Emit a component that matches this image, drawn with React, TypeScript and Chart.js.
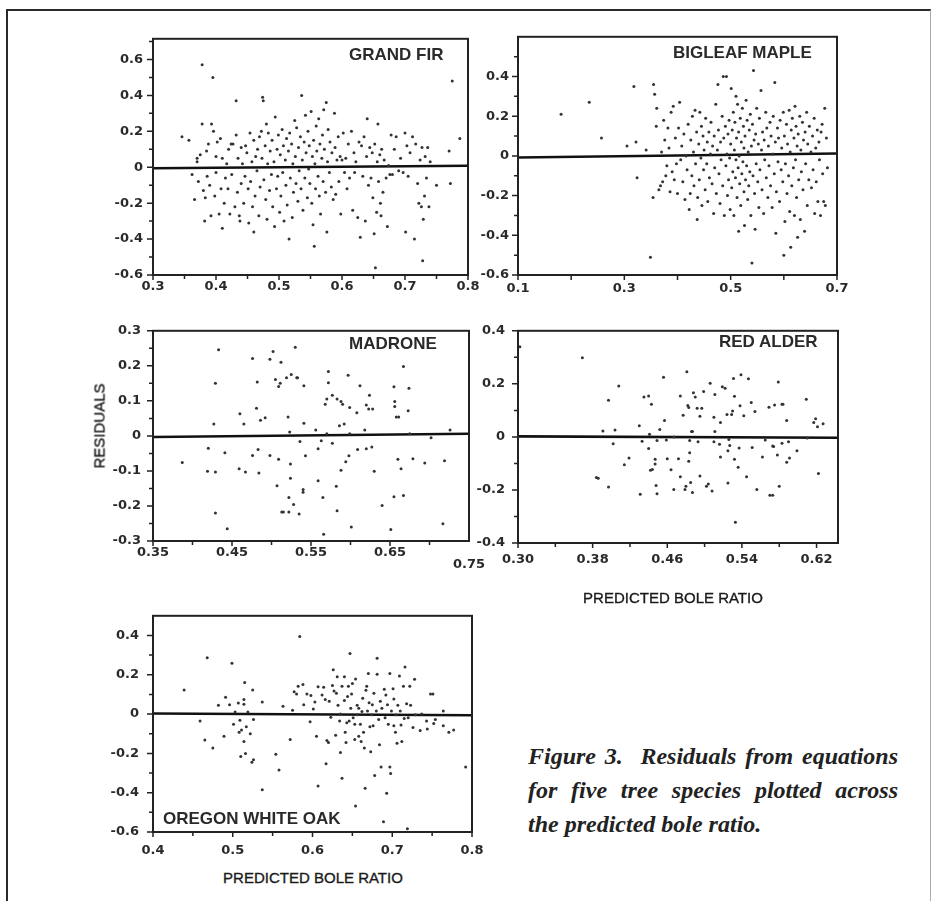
import React, { useEffect, useRef } from "react";
import { Chart, registerables } from "chart.js";
Chart.register(...registerables);

type Pt = [number, number];

// ---------- DATA ----------
const grandFirPoints: Pt[] = [
  [0.346,0.17],[0.357,0.15],[0.362,-0.04],[0.366,-0.18],[0.37,0.03],[0.37,0.05],[0.372,-0.08],[0.375,0.07],[0.378,0.57],[0.378,0.24],[0.38,-0.13],[0.382,-0.3],[0.383,-0.17],[0.385,0.09],[0.386,-0.05],[0.388,0.13],[0.39,-0.1],[0.392,-0.27],[0.393,0.24],[0.395,0.5],[0.396,0.2],[0.398,-0.16],[0.4,0.06],[0.4,-0.03],[0.402,0.14],
  [0.405,-0.26],[0.407,0.16],[0.408,-0.12],[0.41,0.05],[0.41,-0.34],[0.413,-0.2],[0.415,-0.06],[0.417,0.02],[0.419,-0.12],[0.42,0.1],[0.422,-0.26],[0.424,0.13],[0.425,-0.04],[0.427,0.13],[0.43,-0.22],[0.432,0.37],[0.432,0.18],[0.434,-0.14],[0.435,0.05],[0.437,-0.27],[0.438,-0.3],[0.44,0.11],[0.44,-0.09],[0.442,0.02],[0.444,-0.2],[0.446,-0.05],[0.447,0.12],[0.449,0.08],
  [0.451,-0.12],[0.452,-0.31],[0.454,0.19],[0.455,-0.08],[0.457,0.03],[0.458,-0.22],[0.46,0.15],[0.46,-0.36],[0.462,-0.16],[0.463,0.06],[0.465,-0.02],[0.466,0.1],[0.468,-0.27],[0.469,0.17],[0.47,-0.11],[0.472,0.2],[0.473,0.05],[0.474,0.39],[0.475,0.37],[0.476,-0.07],[0.478,0.12],[0.479,-0.18],[0.48,0.24],[0.481,-0.29],[0.482,0.02],[0.483,0.19],[0.485,-0.13],[0.486,0.09],[0.488,-0.04],[0.489,0.15],[0.49,-0.22],[0.492,0.03],[0.493,-0.33],[0.494,0.28],[0.496,-0.12],[0.497,0.1],[0.498,-0.05],[0.499,0.18],
  [0.501,-0.25],[0.502,0.07],[0.503,-0.16],[0.505,0.21],[0.506,-0.03],[0.507,0.12],[0.508,-0.3],[0.51,0.04],[0.511,-0.1],[0.512,0.16],[0.513,-0.21],[0.515,0.09],[0.516,-0.4],[0.517,0.19],[0.518,-0.06],[0.52,0.13],[0.521,-0.28],[0.522,0.02],[0.523,-0.14],[0.525,0.26],[0.526,0.06],[0.527,-0.09],[0.528,0.22],[0.53,-0.19],[0.531,0.11],[0.532,-0.02],[0.534,0.17],[0.535,-0.12],[0.536,0.4],[0.537,0.04],[0.538,-0.24],[0.54,0.14],[0.541,-0.06],[0.542,0.29],[0.543,0.08],[0.545,-0.17],[0.546,0.2],[0.547,-0.01],[0.548,0.12],[0.549,-0.09],
  [0.551,0.31],[0.552,-0.2],[0.553,0.06],[0.554,-0.32],[0.555,0.15],[0.556,-0.44],[0.557,0.02],[0.558,-0.12],[0.559,0.23],[0.56,0.09],[0.562,-0.05],[0.563,0.27],[0.564,-0.16],[0.565,0.13],[0.566,-0.26],[0.568,0.05],[0.569,0.18],[0.57,-0.08],[0.571,0.32],[0.572,0.1],[0.574,-0.14],[0.575,0.36],[0.576,-0.36],[0.577,0.03],[0.578,0.21],[0.58,-0.03],[0.581,0.14],[0.583,-0.11],[0.584,0.08],[0.586,-0.18],[0.588,0.3],[0.589,0.11],[0.59,-0.15],[0.592,0.04],[0.594,0.17],[0.595,-0.08],[0.597,0.06],[0.598,-0.26],[0.6,0.04],
  [0.602,0.19],[0.604,-0.03],[0.606,0.05],[0.608,-0.12],[0.61,0.13],[0.612,-0.06],[0.615,0.2],[0.617,-0.24],[0.619,0.08],[0.62,-0.03],[0.622,0.03],[0.625,-0.28],[0.627,0.14],[0.629,-0.39],[0.631,0.12],[0.633,-0.05],[0.635,0.17],[0.637,-0.3],[0.639,0.06],[0.64,0.27],[0.642,-0.1],[0.644,0.11],[0.646,-0.06],[0.648,0.08],[0.649,-0.17],
  [0.651,-0.37],[0.652,0.13],[0.653,-0.56],[0.655,-0.25],[0.656,0.03],[0.657,0.24],[0.658,-0.08],[0.66,0.07],[0.661,-0.2],[0.662,-0.27],[0.663,0.1],[0.665,-0.14],[0.667,0.04],[0.67,-0.06],[0.672,-0.33],[0.674,0.01],[0.676,-0.04],[0.678,0.18],[0.68,-0.04],[0.683,0.1],[0.686,0.17],[0.69,-0.02],[0.693,0.05],[0.697,-0.03],[0.7,0.19],
  [0.701,-0.36],[0.703,0.12],[0.705,-0.05],[0.708,0.08],[0.712,0.17],[0.715,-0.4],[0.717,0.13],[0.72,-0.09],[0.722,-0.2],[0.724,0.04],[0.726,-0.22],[0.727,0.11],[0.728,-0.52],[0.729,-0.29],[0.731,-0.16],[0.732,0.06],[0.734,-0.06],[0.736,0.11],[0.738,-0.22],[0.74,0.03],[0.75,-0.1],[0.77,0.09],[0.772,-0.09],[0.775,0.48],[0.787,0.16],
];
const grandFirFit: Pt[] = [[0.3,-0.006],[0.8,0.008]];

const bigleafMaplePoints: Pt[] = [
  [0.181,0.21],[0.234,0.27],[0.257,0.09],[0.305,0.05],[0.318,0.35],[0.322,0.07],[0.324,-0.11],[0.341,0.03],[0.349,-0.51],[0.354,-0.21],[0.355,0.36],[0.357,0.31],[0.36,0.15],[0.361,0.24],[0.365,-0.17],[0.368,-0.15],[0.37,0.02],[0.372,-0.13],[0.374,0.18],[0.376,0.08],[0.378,-0.1],[0.38,-0.05],[0.382,0.14],[0.384,0.04],[0.386,-0.18],[0.388,0.22],[0.39,-0.08],[0.392,0.25],[0.394,-0.12],[0.396,0.09],[0.398,-0.04],
  [0.4,-0.19],[0.402,0.14],[0.404,0.27],[0.406,-0.02],[0.408,0.05],[0.41,-0.13],[0.412,0.11],[0.414,-0.22],[0.416,0.0],[0.418,-0.07],[0.42,0.16],[0.422,-0.27],[0.424,-0.19],[0.425,0.08],[0.427,-0.1],[0.428,0.2],[0.43,0.02],[0.431,-0.15],[0.433,0.23],[0.434,-0.04],[0.436,0.12],[0.437,-0.32],[0.438,-0.21],[0.44,0.06],[0.441,-0.12],[0.442,0.22],[0.444,-0.01],[0.445,0.15],[0.446,-0.25],[0.448,0.1],[0.449,-0.07],
  [0.45,0.03],[0.452,-0.17],[0.453,0.19],[0.455,-0.04],[0.456,0.07],[0.457,-0.23],[0.459,0.12],[0.46,-0.11],[0.462,0.01],[0.463,0.17],[0.465,-0.14],[0.466,0.05],[0.468,-0.29],[0.469,0.1],[0.47,-0.06],[0.472,0.26],[0.473,-0.19],[0.475,0.03],[0.476,0.36],[0.477,0.13],[0.478,-0.09],[0.48,-0.24],[0.481,0.07],[0.482,-0.02],[0.484,0.2],[0.485,-0.15],[0.486,0.4],[0.487,0.09],[0.488,-0.3],[0.49,0.15],[0.491,-0.05],[0.492,0.4],[0.493,0.01],[0.494,-0.2],[0.495,0.11],[0.496,-0.12],[0.497,0.18],[0.498,-0.01],[0.499,-0.27],
  [0.5,0.06],[0.501,0.34],[0.502,-0.16],[0.503,0.13],[0.504,-0.08],[0.505,0.22],[0.506,-0.3],[0.507,0.03],[0.508,0.17],[0.509,-0.11],[0.51,0.3],[0.51,-0.02],[0.511,0.09],[0.512,-0.21],[0.513,0.26],[0.514,-0.06],[0.515,0.12],[0.515,-0.38],[0.516,0.0],[0.517,-0.14],[0.518,0.19],[0.519,-0.25],[0.52,0.07],[0.521,-0.09],[0.522,0.24],[0.523,-0.03],[0.524,0.15],[0.525,-0.18],[0.525,0.04],[0.526,-0.35],[0.527,0.1],[0.528,-0.12],[0.529,0.28],[0.53,-0.05],[0.531,0.18],[0.532,-0.22],[0.533,0.02],[0.534,-0.15],[0.535,0.13],[0.536,-0.08],[0.537,0.21],[0.538,-0.3],[0.539,0.05],[0.54,-0.54],[0.541,0.16],[0.542,-0.1],[0.543,0.43],[0.544,0.08],[0.545,-0.19],[0.546,-0.37],[0.547,0.11],[0.548,-0.04],[0.549,0.24],
  [0.551,-0.13],[0.552,0.06],[0.553,-0.26],[0.554,0.19],[0.555,-0.07],[0.557,0.33],[0.558,0.03],[0.559,-0.17],[0.56,0.12],[0.562,-0.29],[0.563,0.08],[0.564,-0.02],[0.566,0.22],[0.567,-0.11],[0.568,0.14],[0.57,-0.21],[0.571,0.05],[0.572,-0.05],[0.574,0.17],[0.575,-0.15],[0.576,0.1],[0.578,-0.26],[0.579,0.01],[0.58,0.2],[0.582,-0.09],[0.583,0.37],[0.584,0.07],[0.585,-0.39],[0.586,-0.18],[0.588,0.14],[0.589,-0.03],[0.59,0.09],[0.592,-0.23],[0.593,0.18],[0.595,-0.07],[0.596,0.04],[0.598,-0.13],[0.599,0.22],
  [0.6,-0.5],[0.601,0.1],[0.602,-0.33],[0.603,-0.04],[0.605,0.16],[0.606,-0.19],[0.607,0.06],[0.609,-0.1],[0.61,0.23],[0.611,-0.28],[0.612,0.02],[0.613,-0.46],[0.614,0.13],[0.615,-0.15],[0.616,0.19],[0.618,-0.06],[0.619,0.09],[0.62,-0.3],[0.621,0.25],[0.622,-0.02],[0.623,0.15],[0.624,-0.21],[0.625,0.05],[0.626,-0.41],[0.627,0.11],[0.628,-0.12],[0.63,0.2],[0.631,-0.32],[0.632,0.03],[0.633,-0.08],[0.635,0.17],[0.636,-0.17],[0.637,0.08],[0.639,-0.38],[0.64,0.12],[0.641,-0.04],[0.643,0.22],[0.644,-0.25],[0.645,0.06],[0.647,-0.12],[0.648,0.15],
  [0.651,0.02],[0.652,-0.16],[0.654,0.1],[0.655,-0.07],[0.657,0.19],[0.658,-0.29],[0.66,0.04],[0.661,-0.13],[0.663,0.13],[0.664,-0.23],[0.666,0.07],[0.667,-0.02],[0.669,-0.3],[0.67,0.12],[0.672,0.16],[0.673,-0.09],[0.675,-0.23],[0.677,0.24],[0.678,-0.25],[0.68,0.09],[0.682,-0.06],
];
const bigleafMapleFit: Pt[] = [[0.1,-0.008],[0.7,0.012]];

const madronePoints: Pt[] = [
  [0.387,-0.076],[0.419,-0.101],[0.42,-0.035],[0.427,0.034],[0.429,0.15],[0.429,-0.103],[0.429,-0.22],[0.433,0.246],[0.441,-0.048],[0.444,-0.265],
  [0.46,0.063],[0.459,-0.094],[0.465,0.034],[0.467,-0.103],[0.476,0.221],[0.476,-0.056],[0.481,0.079],[0.482,0.154],[0.483,-0.039],[0.484,-0.106],
  [0.486,0.045],[0.492,0.052],[0.498,0.219],[0.498,-0.056],[0.502,0.241],[0.505,0.161],[0.507,-0.142],[0.509,-0.067],[0.509,0.141],[0.511,0.15],
  [0.512,0.21],[0.513,-0.217],[0.515,-0.217],[0.519,0.166],[0.521,0.054],[0.522,-0.176],[0.523,0.011],[0.522,-0.217],[0.524,-0.08],[0.524,-0.121],
  [0.525,0.175],[0.528,-0.196],[0.53,0.253],[0.532,0.166],[0.533,0.166],[0.535,-0.223],[0.536,-0.016],[0.54,-0.153],[0.54,-0.161],[0.541,0.143],
  [0.541,0.036],[0.543,-0.057],[0.556,0.017],[0.559,-0.037],[0.559,-0.128],[0.563,-0.014],[0.565,-0.176],[0.566,-0.281],[0.568,0.09],[0.57,0.105],
  [0.57,0.006],[0.572,0.184],[0.572,0.152],[0.577,-0.021],[0.577,0.116],[0.582,-0.144],[0.583,0.105],[0.583,-0.214],[0.586,0.029],[0.588,0.098],
  [0.588,-0.098],[0.59,0.09],[0.592,0.034],[0.594,-0.074],[0.597,0.173],[0.598,-0.057],[0.599,0.006],[0.599,0.081],[0.601,-0.26],[0.608,0.066],
  [0.609,-0.039],[0.612,0.143],[0.618,0.017],[0.62,-0.037],[0.62,0.088],[0.623,0.077],[0.624,0.116],[0.627,-0.032],[0.628,0.077],[0.63,-0.101],
  [0.64,-0.199],[0.651,-0.267],[0.655,0.14],[0.655,-0.174],[0.656,0.098],[0.656,0.084],[0.658,0.054],[0.66,-0.067],[0.661,0.054],[0.664,-0.094],
  [0.667,0.198],[0.667,-0.17],[0.673,0.072],[0.674,0.136],[0.675,0.006],[0.679,-0.065],[0.694,-0.077],[0.702,-0.005],[0.717,-0.251],[0.719,-0.071],
  [0.726,0.017],
];
const madroneFit: Pt[] = [[0.35,-0.003],[0.75,0.006]];

const redAlderPoints: Pt[] = [
  [0.302,0.34],[0.369,0.298],[0.384,-0.153],[0.386,-0.156],[0.391,0.022],[0.397,0.138],[0.397,-0.189],[0.402,-0.026],[0.404,0.026],[0.408,0.192],
  [0.414,-0.105],[0.419,-0.08],[0.43,0.042],[0.431,-0.216],[0.433,-0.016],[0.435,0.15],[0.44,0.154],[0.44,-0.044],[0.441,0.01],[0.442,-0.126],
  [0.443,0.123],[0.444,-0.123],[0.447,-0.084],[0.447,-0.102],[0.448,-0.183],[0.449,-0.014],[0.449,-0.214],[0.452,0.028],[0.456,0.225],[0.457,0.062],
  [0.459,-0.012],[0.46,-0.082],[0.464,-0.124],[0.467,0.0],[0.467,-0.198],[0.472,-0.082],[0.474,0.154],[0.474,-0.15],[0.477,0.082],[0.479,-0.198],
  [0.48,-0.186],[0.481,0.246],[0.482,0.118],[0.483,0.111],[0.483,-0.092],[0.484,-0.014],[0.484,-0.06],[0.485,-0.172],[0.486,0.02],[0.487,0.02],
  [0.487,-0.21],[0.488,0.166],[0.49,0.15],[0.492,0.108],[0.493,-0.018],[0.495,-0.147],[0.495,0.078],[0.497,0.108],[0.499,0.171],[0.502,-0.186],
  [0.504,-0.178],[0.506,0.202],[0.508,-0.204],[0.51,0.074],[0.511,0.16],[0.511,0.02],[0.51,-0.018],[0.516,-0.028],[0.517,-0.076],[0.517,0.054],
  [0.519,0.189],[0.522,0.183],[0.524,0.084],[0.525,-0.174],[0.525,-0.052],[0.526,-0.01],[0.527,-0.032],[0.529,0.084],[0.53,0.098],[0.531,0.22],
  [0.532,0.153],[0.532,-0.084],[0.533,-0.322],[0.536,-0.114],[0.537,-0.042],[0.538,0.117],[0.539,0.234],[0.542,0.08],[0.545,-0.15],[0.547,0.219],
  [0.55,0.13],[0.551,-0.04],[0.554,0.096],[0.556,-0.198],[0.562,-0.076],[0.565,-0.012],[0.569,0.112],[0.57,-0.22],[0.573,-0.22],[0.573,-0.034],
  [0.574,-0.036],[0.575,0.12],[0.578,-0.068],[0.579,0.207],[0.58,-0.186],[0.583,0.123],[0.583,-0.024],[0.584,0.123],[0.588,0.062],[0.588,-0.096],
  [0.59,-0.018],[0.591,-0.08],[0.599,-0.052],[0.609,0.142],[0.61,-0.004],[0.617,0.054],[0.619,0.068],[0.621,0.038],[0.622,-0.138],[0.627,0.05],
];
const redAlderFit: Pt[] = [[0.3,0.002],[0.643,-0.003]];

const oregonWhiteOakPoints: Pt[] = [
  [0.439,0.123],[0.459,-0.035],[0.465,-0.132],[0.468,0.287],[0.475,-0.173],[0.482,0.045],[0.489,-0.113],[0.491,0.085],[0.496,0.048],[0.499,0.258],
  [0.501,-0.052],[0.503,0.01],[0.507,0.056],[0.508,-0.092],[0.509,-0.032],[0.51,-0.216],[0.511,-0.081],[0.514,0.074],[0.514,0.05],[0.514,-0.14],
  [0.515,0.161],[0.516,-0.2],[0.517,-0.065],[0.519,0.01],[0.522,-0.1],[0.524,-0.245],[0.525,0.123],[0.526,-0.232],[0.526,-0.027],[0.537,0.061],
  [0.537,-0.385],[0.554,-0.205],[0.558,-0.285],[0.563,0.04],[0.572,-0.129],[0.575,0.019],[0.577,0.113],[0.58,0.102],[0.582,0.142],[0.584,0.395],
  [0.588,0.15],[0.589,0.048],[0.593,0.102],[0.597,-0.039],[0.598,0.094],[0.601,0.026],[0.603,0.061],[0.605,-0.113],[0.607,0.139],[0.607,-0.366],
  [0.612,0.097],[0.614,0.137],[0.616,0.074],[0.617,-0.253],[0.618,-0.135],[0.62,-0.145],[0.621,0.065],[0.623,-0.016],[0.625,0.145],[0.626,0.226],
  [0.627,0.118],[0.629,-0.108],[0.63,0.106],[0.631,0.19],[0.632,0.045],[0.634,-0.035],[0.635,-0.196],[0.635,0.0],[0.637,-0.326],[0.637,0.142],
  [0.64,0.069],[0.64,0.19],[0.641,-0.092],[0.642,-0.145],[0.643,-0.044],[0.644,0.09],[0.645,0.142],[0.646,-0.035],[0.647,0.308],[0.648,0.029],
  [0.649,0.102],[0.65,0.155],[0.651,-0.019],[0.653,-0.052],[0.653,-0.129],[0.654,0.179],[0.654,-0.468],[0.656,-0.003],[0.656,0.045],[0.658,-0.113],
  [0.658,0.029],[0.66,-0.052],[0.661,-0.14],[0.662,0.013],[0.663,0.081],[0.664,-0.092],[0.665,-0.173],[0.666,-0.377],[0.667,0.121],[0.668,0.142],
  [0.669,0.016],[0.67,0.206],[0.671,0.058],[0.672,-0.065],[0.673,-0.192],[0.674,-0.003],[0.675,0.048],[0.676,-0.06],[0.677,0.106],[0.678,-0.313],
  [0.68,0.016],[0.681,0.284],[0.681,0.203],[0.683,-0.027],[0.684,-0.156],[0.685,0.065],[0.686,-0.269],[0.687,0.029],[0.689,-0.548],[0.69,0.126],
  [0.691,-0.019],[0.692,0.097],[0.693,-0.403],[0.694,0.048],[0.695,-0.052],[0.697,0.206],[0.697,-0.269],[0.698,-0.302],[0.699,0.016],[0.701,0.129],
  [0.702,-0.06],[0.702,0.077],[0.704,-0.092],[0.705,-0.003],[0.706,-0.148],[0.707,0.045],[0.709,0.194],[0.71,0.016],[0.711,-0.055],[0.712,-0.14],
  [0.714,0.142],[0.715,-0.023],[0.716,0.239],[0.718,0.053],[0.719,-0.584],[0.72,-0.019],[0.722,0.142],[0.723,0.045],[0.726,-0.068],[0.728,0.177],
  [0.729,-0.003],[0.735,-0.084],[0.737,0.0],[0.743,-0.035],[0.744,-0.076],[0.748,0.102],[0.751,0.102],[0.752,-0.048],[0.754,-0.027],[0.764,0.016],
  [0.764,-0.06],[0.771,-0.092],[0.777,-0.081],[0.792,-0.269],
];
const oregonWhiteOakFit: Pt[] = [[0.4,0.003],[0.8,-0.006]];

// tick values and labels
const grandFirXTicks = [0.3, 0.4, 0.5, 0.6, 0.7, 0.8];
const grandFirXLabels = ["0.3", "0.4", "0.5", "0.6", "0.7", "0.8"];
const grandFirXMinor = [0.35, 0.45, 0.55, 0.65, 0.75];
const grandFirYTicks = [-0.6, -0.4, -0.2, 0, 0.2, 0.4, 0.6];
const grandFirYLabels = ["-0.6", "-0.4", "-0.2", "0", "0.2", "0.4", "0.6"];
const grandFirYMinor = [-0.5, -0.3, -0.1, 0.1, 0.3, 0.5, 0.7];

const bigleafXTicks = [0.1, 0.3, 0.5, 0.7];
const bigleafXLabels = ["0.1", "0.3", "0.5", "0.7"];
const bigleafXMinor = [0.2, 0.4, 0.6];
const bigleafYTicks = [-0.6, -0.4, -0.2, 0, 0.2, 0.4];
const bigleafYLabels = ["-0.6", "-0.4", "-0.2", "0", "0.2", "0.4"];
const bigleafYMinor = [-0.5, -0.3, -0.1, 0.1, 0.3, 0.5];

const madroneXTicks = [0.35, 0.45, 0.55, 0.65];
const madroneXLabels = ["0.35", "0.45", "0.55", "0.65"];
const madroneXMinor = [0.4, 0.5, 0.6, 0.7];
const madroneYTicks = [-0.3, -0.2, -0.1, 0, 0.1, 0.2, 0.3];
const madroneYLabels = ["-0.3", "-0.2", "-0.1", "0", "0.1", "0.2", "0.3"];
const madroneYMinor = [-0.25, -0.15, -0.05, 0.05, 0.15, 0.25];

const redAlderXTicks = [0.3, 0.38, 0.46, 0.54, 0.62];
const redAlderXLabels = ["0.30", "0.38", "0.46", "0.54", "0.62"];
const redAlderXMinor = [0.34, 0.42, 0.5, 0.58];
const redAlderYTicks = [-0.4, -0.2, 0, 0.2, 0.4];
const redAlderYLabels = ["-0.4", "-0.2", "0", "0.2", "0.4"];
const redAlderYMinor = [-0.3, -0.1, 0.1, 0.3];

const oakXTicks = [0.4, 0.5, 0.6, 0.7, 0.8];
const oakXLabels = ["0.4", "0.5", "0.6", "0.7", "0.8"];
const oakXMinor = [0.45, 0.55, 0.65, 0.75];
const oakYTicks = [-0.6, -0.4, -0.2, 0, 0.2, 0.4];
const oakYLabels = ["-0.6", "-0.4", "-0.2", "0", "0.2", "0.4"];
const oakYMinor = [-0.5, -0.3, -0.1, 0.1, 0.3];

// ---------- PANEL SETUP ----------
interface PanelCfg {
  box: { l: number; t: number; r: number; b: number };
  xRange: [number, number];
  yRange: [number, number];
  points: Pt[];
  fit: Pt[];
  xTicks: number[]; xLabels: string[]; xMinor: number[]; xMinorLen: number;
  yTicks: number[]; yLabels: string[]; yMinor: number[];
  xGap: number; yGap: number;
}

const panels: PanelCfg[] = [
  { box: { l: 153, t: 33, r: 468, b: 275 }, xRange: [0.3, 0.8], yRange: [-0.6, 0.715], points: grandFirPoints, fit: grandFirFit,
    xTicks: grandFirXTicks, xLabels: grandFirXLabels, xMinor: grandFirXMinor, xMinorLen: 4,
    yTicks: grandFirYTicks, yLabels: grandFirYLabels, yMinor: grandFirYMinor, xGap: 4, yGap: 10 },
  { box: { l: 518, t: 32, r: 837, b: 275 }, xRange: [0.1, 0.7], yRange: [-0.6, 0.6], points: bigleafMaplePoints, fit: bigleafMapleFit,
    xTicks: bigleafXTicks, xLabels: bigleafXLabels, xMinor: bigleafXMinor, xMinorLen: 5,
    yTicks: bigleafYTicks, yLabels: bigleafYLabels, yMinor: bigleafYMinor, xGap: 6, yGap: 9 },
  { box: { l: 153, t: 323, r: 469, b: 541 }, xRange: [0.35, 0.75], yRange: [-0.3, 0.3], points: madronePoints, fit: madroneFit,
    xTicks: madroneXTicks, xLabels: madroneXLabels, xMinor: madroneXMinor, xMinorLen: 4,
    yTicks: madroneYTicks, yLabels: madroneYLabels, yMinor: madroneYMinor, xGap: 4, yGap: 12 },
  { box: { l: 518, t: 322, r: 838, b: 543 }, xRange: [0.3, 0.643], yRange: [-0.4, 0.4], points: redAlderPoints, fit: redAlderFit,
    xTicks: redAlderXTicks, xLabels: redAlderXLabels, xMinor: redAlderXMinor, xMinorLen: 4,
    yTicks: redAlderYTicks, yLabels: redAlderYLabels, yMinor: redAlderYMinor, xGap: 9, yGap: 13 },
  { box: { l: 153, t: 606, r: 472, b: 832 }, xRange: [0.4, 0.8], yRange: [-0.6, 0.5], points: oregonWhiteOakPoints, fit: oregonWhiteOakFit,
    xTicks: oakXTicks, xLabels: oakXLabels, xMinor: oakXMinor, xMinorLen: 4,
    yTicks: oakYTicks, yLabels: oakYLabels, yMinor: oakYMinor, xGap: 11, yGap: 14 },
];

const TICK_FONT = { family: "'DejaVu Sans', sans-serif", size: 13, weight: "bold" as const };
const PAD_L = 60, PAD_T = 12, PAD_R = 24, PAD_B = 36;

function Panel({ cfg }: { cfg: PanelCfg }) {
  const ref = useRef<HTMLCanvasElement>(null);
  const w = cfg.box.r - cfg.box.l + PAD_L + PAD_R;
  const h = cfg.box.b - cfg.box.t + PAD_T + PAD_B;

  useEffect(() => {
    const framePlugin = {
      id: "frameTicks",
      afterDraw(chart: any) {
        const { ctx, chartArea: a, scales } = chart;
        const xs = scales.x, ys = scales.y;
        ctx.save();
        ctx.strokeStyle = "#222";
        ctx.lineWidth = 1.5;
        ctx.beginPath();
        const xMark = (v: number, len: number) => {
          const p = xs.getPixelForValue(v);
          ctx.moveTo(p, a.bottom); ctx.lineTo(p, a.bottom + len);
        };
        const yMark = (v: number, len: number) => {
          const p = ys.getPixelForValue(v);
          ctx.moveTo(a.left - len, p); ctx.lineTo(a.left, p);
        };
        cfg.xTicks.forEach((v) => xMark(v, 5));
        cfg.xMinor.forEach((v) => xMark(v, cfg.xMinorLen));
        cfg.yTicks.forEach((v) => yMark(v, 6));
        cfg.yMinor.forEach((v) => yMark(v, 4));
        ctx.stroke();
        ctx.lineWidth = 2;
        ctx.strokeRect(a.left, a.top, a.right - a.left, a.bottom - a.top);
        ctx.restore();
      },
    };

    const chart = new Chart(ref.current as HTMLCanvasElement, {
      type: "scatter",
      data: {
        datasets: [
          {
            data: cfg.points.map(([x, y]) => ({ x, y })),
            pointRadius: 1.5,
            pointHoverRadius: 1.5,
            pointBackgroundColor: "#333",
            pointBorderWidth: 0,
          },
          {
            data: cfg.fit.map(([x, y]) => ({ x, y })),
            showLine: true,
            borderColor: "#111",
            borderWidth: 2.6,
            pointRadius: 0,
          },
        ],
      },
      options: {
        animation: false,
        responsive: false,
        devicePixelRatio: 1,
        events: [],
        layout: { padding: { left: 0, top: PAD_T, right: PAD_R, bottom: 0 } },
        plugins: { legend: { display: false }, tooltip: { enabled: false } },
        scales: {
          x: {
            type: "linear",
            min: cfg.xRange[0],
            max: cfg.xRange[1],
            grid: { display: false, drawTicks: false },
            border: { display: false },
            afterFit: (s: any) => { s.height = PAD_B; },
            afterBuildTicks: (s: any) => { s.ticks = cfg.xTicks.map((v) => ({ value: v })); },
            ticks: {
              callback: (_v: any, i: number) => cfg.xLabels[i],
              font: TICK_FONT, color: "#2a2a2a", padding: cfg.xGap,
              maxRotation: 0, minRotation: 0, autoSkip: false,
            },
          },
          y: {
            type: "linear",
            min: cfg.yRange[0],
            max: cfg.yRange[1],
            grid: { display: false, drawTicks: false },
            border: { display: false },
            afterFit: (s: any) => { s.width = PAD_L; },
            afterBuildTicks: (s: any) => { s.ticks = cfg.yTicks.map((v) => ({ value: v })); },
            ticks: {
              callback: (_v: any, i: number) => cfg.yLabels[i],
              font: TICK_FONT, color: "#2a2a2a", padding: cfg.yGap, autoSkip: false,
            },
          },
        },
      } as any,
      plugins: [framePlugin],
    });
    return () => chart.destroy();
  }, []);

  return (
    <canvas
      ref={ref}
      width={w}
      height={h}
      style={{ position: "absolute", left: cfg.box.l - PAD_L, top: cfg.box.t - PAD_T, width: w, height: h }}
    />
  );
}

const titleStyle: React.CSSProperties = {
  position: "absolute",
  fontFamily: "'Liberation Sans', Arial, sans-serif",
  fontWeight: "bold",
  fontSize: 17,
  lineHeight: "17px",
  color: "#2a2a2a",
  whiteSpace: "nowrap",
};
const axisTitleStyle: React.CSSProperties = {
  position: "absolute",
  fontFamily: "'Liberation Sans', Arial, sans-serif",
  fontSize: 15,
  lineHeight: "15px",
  color: "#1a1a1a",
  WebkitTextStroke: "0.35px #1a1a1a",
  whiteSpace: "nowrap",
  transform: "translateX(-50%)",
};
const captionLine: React.CSSProperties = {
  position: "absolute",
  left: 528,
  width: 370,
  fontFamily: "'Liberation Serif', 'Times New Roman', serif",
  fontStyle: "italic",
  fontWeight: "bold",
  fontSize: 24,
  lineHeight: "34px",
  color: "#222",
  whiteSpace: "nowrap",
};

export default function App() {
  return (
    <div style={{ position: "absolute", left: 0, top: 0, width: 932, height: 903, background: "#fff", overflow: "hidden" }}>
      <div style={{ position: "absolute", left: 6, top: 9, width: 925, height: 892, boxSizing: "border-box",
        borderLeft: "2px solid #2a2a2a", borderTop: "2px solid #2a2a2a", borderRight: "1px solid #aaa" }} />
      {panels.map((p, i) => <Panel key={i} cfg={p} />)}

      <div style={{ ...titleStyle, left: 349, top: 46 }}>GRAND FIR</div>
      <div style={{ ...titleStyle, left: 673, top: 44 }}>BIGLEAF MAPLE</div>
      <div style={{ ...titleStyle, left: 349, top: 335 }}>MADRONE</div>
      <div style={{ ...titleStyle, left: 719, top: 333 }}>RED ALDER</div>
      <div style={{ ...titleStyle, left: 163, top: 810 }}>OREGON WHITE OAK</div>

      <div style={{ position: "absolute", left: 469, top: 557, transform: "translateX(-50%)",
        fontFamily: "'DejaVu Sans', sans-serif", fontWeight: "bold", fontSize: 13, lineHeight: "13px", color: "#2a2a2a" }}>0.75</div>

      <div style={{ ...axisTitleStyle, left: 673, top: 590 }}>PREDICTED BOLE RATIO</div>
      <div style={{ ...axisTitleStyle, left: 313, top: 870 }}>PREDICTED BOLE RATIO</div>
      <div style={{ ...axisTitleStyle, left: 99, top: 426, transform: "translate(-50%, -50%) rotate(-90deg)" }}>RESIDUALS</div>

      <div style={{ ...captionLine, top: 739, textAlign: "justify", textAlignLast: "justify" }}>Figure 3.&nbsp; Residuals from equations</div>
      <div style={{ ...captionLine, top: 773, textAlign: "justify", textAlignLast: "justify" }}>for five tree species plotted across</div>
      <div style={{ ...captionLine, top: 807 }}>the predicted bole ratio.</div>
    </div>
  );
}
